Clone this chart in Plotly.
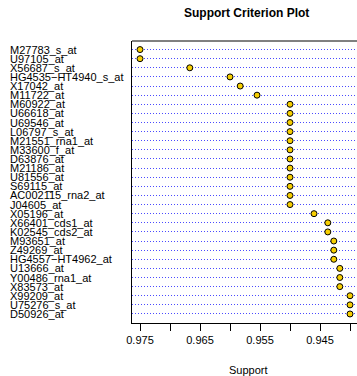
import plotly.graph_objects as go

labels = ["M27783_s_at", "U97105_at", "X56687_s_at", "HG4535\u2212HT4940_s_at", "X17042_at",
          "M11722_at", "M60922_at", "U66618_at", "U69546_at", "L06797_s_at",
          "M21551_rna1_at", "M33600_f_at", "D63876_at", "M21186_at", "U81556_at",
          "S69115_at", "AC002115_rna2_at", "J04605_at", "X05196_at", "X66401_cds1_at",
          "K02545_cds2_at", "M93651_at", "Z49269_at", "HG4557\u2212HT4962_at", "U13666_at",
          "Y00486_rna1_at", "X83573_at", "X99209_at", "U75276_s_at", "D50926_at"]
support = [0.975, 0.975, 0.9667, 0.960, 0.9583, 0.9555,
           0.950, 0.950, 0.950, 0.950, 0.950, 0.950, 0.950, 0.950, 0.950, 0.950, 0.950, 0.950,
           0.9460, 0.9437, 0.9437, 0.9427, 0.9427, 0.9427,
           0.9417, 0.9417, 0.9417, 0.940, 0.940, 0.940]
tick_vals = [0.975, 0.970, 0.965, 0.960, 0.955, 0.950, 0.945, 0.940]
tick_text = ["0.975", "", "0.965", "", "0.955", "", "0.945", ""]

rows = list(range(1, len(labels) + 1))
FONT = "Liberation Sans, Arial, Helvetica, sans-serif"

fig = go.Figure()
fig.add_trace(go.Scatter(
    x=support, y=rows, mode="markers",
    marker=dict(size=6, color="#F7CF00", line=dict(color="black", width=1)),
    hoverinfo="skip", showlegend=False))

L, R, T, B = 132, 0, 41, 53
W, H = 357, 376
pw, ph = W - L - R, H - T - B

annotations = []
for i, lab in enumerate(labels):
    annotations.append(dict(x=(8 - L) / pw, xref="paper", y=rows[i], yref="y",
                            text=lab, showarrow=False, xanchor="left", yanchor="middle",
                            font=dict(family=FONT, size=11, color="black")))
annotations.append(dict(x=(246 - L) / pw, xref="paper", y=(H - B - 12.7) / ph, yref="paper",
                        text="<b>Support Criterion Plot</b>", showarrow=False,
                        xanchor="center", yanchor="middle",
                        font=dict(family=FONT, size=12, color="black")))
annotations.append(dict(x=(248 - L) / pw, xref="paper", y=(H - B - 370.0) / ph, yref="paper",
                        text="Support", showarrow=False, xanchor="center", yanchor="middle",
                        font=dict(family=FONT, size=11, color="black")))

fig.update_layout(
    width=W, height=H, autosize=False,
    margin=dict(l=L, r=R, t=T, b=B, pad=0, autoexpand=False),
    paper_bgcolor="white", plot_bgcolor="white",
    annotations=annotations,
    xaxis=dict(range=[0.975 + 8 / 6000, 0.975 - 217 / 6000],
               tickvals=tick_vals, ticktext=tick_text, automargin=False,
               ticks="outside", ticklen=7, tickcolor="black", tickwidth=1,
               showgrid=False, zeroline=False,
               showline=True, linecolor="black", linewidth=1,
               tickfont=dict(family=FONT, size=11, color="black")),
    yaxis=dict(range=[30.99, 0.06], tickvals=rows, showticklabels=False, ticks="",
               automargin=False,
               showgrid=True, gridcolor="rgba(30,30,255,0.8)", griddash="1px,2px", gridwidth=1,
               zeroline=False, showline=True, linecolor="black", linewidth=1),
    shapes=[dict(type="line", xref="paper", yref="paper", x0=0, x1=1, y0=1, y1=1,
                 line=dict(color="black", width=1))],
)

fig.write_html("out.html", config={"responsive": False})
